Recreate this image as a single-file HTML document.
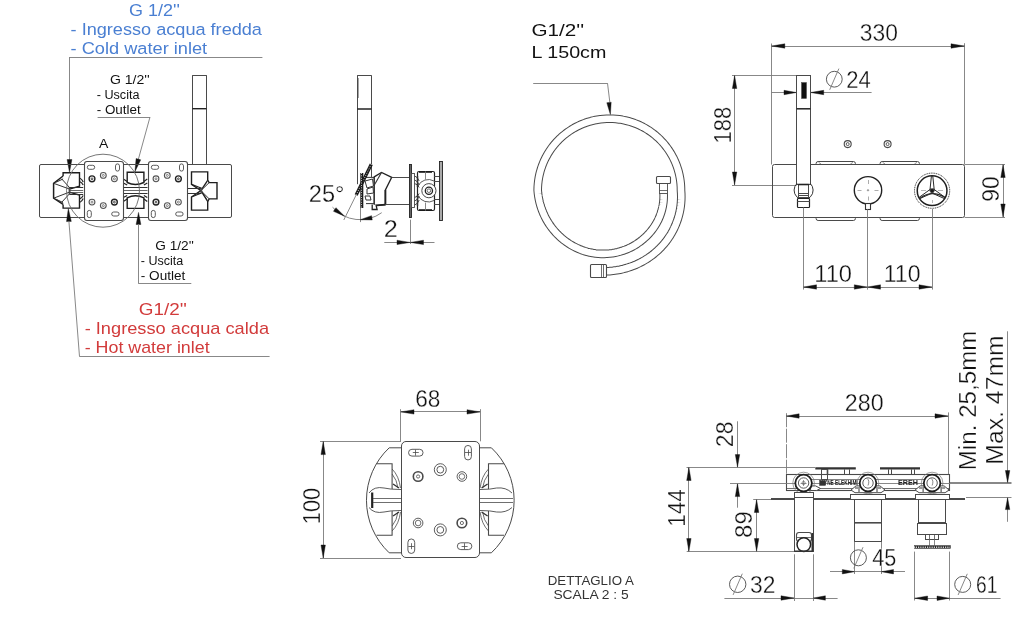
<!DOCTYPE html>
<html><head><meta charset="utf-8"><style>
html,body{margin:0;padding:0;background:#fff;width:1024px;height:617px;overflow:hidden}
svg{display:block;will-change:transform}
text{font-family:"Liberation Sans",sans-serif} .big{stroke:#fff;stroke-width:0.3px}
</style></head><body>
<svg width="1024" height="617" viewBox="0 0 1024 617">
<rect x="0" y="0" width="1024" height="617" fill="#fff"/>
<text x="129.10" y="15.6" font-size="16.8" fill="#4a7fd2" textLength="50.85" lengthAdjust="spacingAndGlyphs">G 1/2''</text>
<text x="70.58" y="34.6" font-size="16.8" fill="#4a7fd2" textLength="191.36" lengthAdjust="spacingAndGlyphs">- Ingresso acqua fredda</text>
<text x="70.58" y="54.0" font-size="16.8" fill="#4a7fd2" textLength="136.57" lengthAdjust="spacingAndGlyphs">- Cold water inlet</text>
<line x1="69" y1="57.5" x2="262.4" y2="57.5" stroke="#7a7a7a" stroke-width="0.9" />
<line x1="69.5" y1="57.5" x2="69.5" y2="161" stroke="#7a7a7a" stroke-width="0.9" />
<path d="M69.50,172.40 L67.10,159.50 L71.90,159.50 Z" fill="#111" stroke="#111" stroke-width="0.4"/>
<text x="109.90" y="84" font-size="12.5" fill="#111" textLength="39.74" lengthAdjust="spacingAndGlyphs">G 1/2''</text>
<text x="96.73" y="99.4" font-size="12.5" fill="#111" textLength="42.76" lengthAdjust="spacingAndGlyphs">- Uscita</text>
<text x="96.70" y="114.3" font-size="12.5" fill="#111" textLength="44.02" lengthAdjust="spacingAndGlyphs">- Outlet</text>
<line x1="97.6" y1="117.5" x2="150" y2="117.5" stroke="#7a7a7a" stroke-width="0.9" />
<line x1="150" y1="117" x2="138.3" y2="159.5" stroke="#7a7a7a" stroke-width="0.9" />
<path d="M134.90,171.80 L136.09,158.56 L140.71,159.84 Z" fill="#111" stroke="#111" stroke-width="0.4"/>
<text x="98.90" y="147.6" font-size="12.5" fill="#111" textLength="9.33" lengthAdjust="spacingAndGlyphs">A</text>
<rect x="39.5" y="164.5" width="192.0" height="53.0" rx="1.5" stroke="#4a4a4a" stroke-width="1.0" fill="none" />
<line x1="192.5" y1="75.2" x2="192.5" y2="164.5" stroke="#4a4a4a" stroke-width="1.0" />
<line x1="206.5" y1="75.2" x2="206.5" y2="164.5" stroke="#4a4a4a" stroke-width="1.0" />
<line x1="192.4" y1="75.5" x2="206.5" y2="75.5" stroke="#4a4a4a" stroke-width="1.0" />
<line x1="192.4" y1="108.7" x2="206.5" y2="108.7" stroke="#222" stroke-width="1.4" />
<path d="M63.1,176 L63.1,172.7 L79.5,172.7 L79.5,186.2 L69.3,189.1" stroke="#1e1e1e" stroke-width="1.4" fill="#fff" />
<path d="M63.1,204.4 L63.1,208.1 L79.5,208.1 L79.5,195 L69.3,192.1" stroke="#1e1e1e" stroke-width="1.4" fill="#fff" />
<path d="M63.1,176 L53.6,183.3 L53.6,198.2 L63.1,204.4" stroke="#1e1e1e" stroke-width="1.5" fill="none" />
<path d="M56.2,182.2 L63.1,178.9 M56.2,199.3 L63.1,202.6" stroke="#333" stroke-width="1.0" fill="none" />
<path d="M53.6,183.3 L69.3,189 M53.6,198.2 L69.3,192.2 M61.7,178.9 L69.3,187.3 M61.7,202.3 L69.3,194" stroke="#333" stroke-width="1.0" fill="none" />
<line x1="69.5" y1="187" x2="69.5" y2="194.2" stroke="#4a4a4a" stroke-width="1.8" />
<line x1="69.3" y1="187.5" x2="83.2" y2="187.5" stroke="#333" stroke-width="1.0" />
<line x1="69.3" y1="190.5" x2="83.2" y2="190.5" stroke="#444" stroke-width="0.8" />
<line x1="69.3" y1="192.5" x2="83.2" y2="192.5" stroke="#444" stroke-width="0.8" />
<line x1="69.3" y1="194.5" x2="83.2" y2="194.5" stroke="#333" stroke-width="1.0" />
<path d="M79.5,178 q2.5,1 3.7,4 M79.5,181.5 q2.5,1 3.7,3.5 M79.5,199 q2.5,-1 3.7,-3.5 M79.5,202.5 q2.5,-1 3.7,-4" stroke="#222" stroke-width="1.2" fill="none" />
<path d="M127.2,182.5 L127.2,172.2 L143.9,172.2 L143.9,182.5 Q135.4,186.5 127.2,182.5 Z" stroke="#1e1e1e" stroke-width="1.4" fill="#fff" />
<path d="M127.2,197.8 L127.2,208.4 L143.9,208.4 L143.9,197.8 Q135.4,193.8 127.2,197.8 Z" stroke="#1e1e1e" stroke-width="1.4" fill="#fff" />
<line x1="123" y1="187.5" x2="147.5" y2="187.5" stroke="#333" stroke-width="1.0" />
<line x1="123" y1="190.5" x2="147.5" y2="190.5" stroke="#444" stroke-width="0.8" />
<line x1="123" y1="193.5" x2="147.5" y2="193.5" stroke="#333" stroke-width="1.0" />
<path d="M123.3,179 l3.9,2.5 M123.3,183 l3.9,2 M123.3,197.5 l3.9,-2 M123.3,201.5 l3.9,-2.5" stroke="#222" stroke-width="1.2" fill="none" />
<path d="M147.3,179 l-3.4,2.5 M147.3,183 l-3.4,2 M147.3,197.5 l-3.4,-2 M147.3,201.5 l-3.4,-2.5" stroke="#222" stroke-width="1.2" fill="none" />
<path d="M191.5,184.3 L191.5,171.9 L207.7,171.9 L207.7,180.4 L200.9,190.6 Z" stroke="#1e1e1e" stroke-width="1.4" fill="#fff" />
<path d="M191.5,197 L191.5,210.1 L207.7,210.1 L207.7,201.3 L200.9,190.6 Z" stroke="#1e1e1e" stroke-width="1.4" fill="#fff" />
<path d="M207.7,180.4 L209.2,182.6 L217,182.6 L217,198.9 L209.2,198.9 L207.7,201.3" stroke="#1e1e1e" stroke-width="1.4" fill="#fff" />
<path d="M200.9,190.6 L209.2,182.6 M200.9,190.6 L209.2,198.9" stroke="#333" stroke-width="1.0" fill="none" />
<line x1="201.3" y1="187.5" x2="201.3" y2="193.7" stroke="#4a4a4a" stroke-width="1.8" />
<line x1="187.3" y1="188.5" x2="200.9" y2="188.5" stroke="#333" stroke-width="1.0" />
<line x1="187.3" y1="193.5" x2="200.9" y2="193.5" stroke="#333" stroke-width="1.0" />
<path d="M191.5,184.3 L200.9,188 M191.5,197 L200.9,193.2" stroke="#222" stroke-width="1.2" fill="none" />
<rect x="84.5" y="161.5" width="39.0" height="59.0" rx="2.5" stroke="#4a4a4a" stroke-width="1.1" fill="#fff" />
<path d="M89.30,165.30 h3.40 a2.0,2.0 0 0 1 0,4.0 h-3.40 a2.0,2.0 0 0 1 0,-4.0 Z" stroke="#4a4a4a" stroke-width="0.9" fill="none" />
<path d="M115.50,165.90 v3.20 a2.0,2.0 0 0 0 4.0,0 v-3.20 a2.0,2.0 0 0 0 -4.0,0 Z" stroke="#4a4a4a" stroke-width="0.9" fill="none" />
<path d="M87.30,212.40 v3.20 a2.0,2.0 0 0 0 4.0,0 v-3.20 a2.0,2.0 0 0 0 -4.0,0 Z" stroke="#4a4a4a" stroke-width="0.9" fill="none" />
<path d="M113.70,212.00 h3.40 a2.0,2.0 0 0 1 0,4.0 h-3.40 a2.0,2.0 0 0 1 0,-4.0 Z" stroke="#4a4a4a" stroke-width="0.9" fill="none" />
<circle cx="92.0" cy="178.8" r="2.9" stroke="#222" stroke-width="1.4" fill="none" />
<circle cx="92.0" cy="178.8" r="0.9" stroke="#333" stroke-width="0.9" fill="none" />
<circle cx="103.3" cy="175.4" r="2.9" stroke="#555" stroke-width="1.1" fill="none" />
<circle cx="103.3" cy="175.4" r="1.0" stroke="#666" stroke-width="0.8" fill="none" />
<circle cx="114.4" cy="178.8" r="2.9" stroke="#555" stroke-width="1.1" fill="none" />
<circle cx="114.4" cy="178.8" r="1.0" stroke="#666" stroke-width="0.8" fill="none" />
<circle cx="92.0" cy="202.1" r="2.9" stroke="#555" stroke-width="1.1" fill="none" />
<circle cx="92.0" cy="202.1" r="1.0" stroke="#666" stroke-width="0.8" fill="none" />
<circle cx="103.3" cy="205.6" r="2.9" stroke="#555" stroke-width="1.1" fill="none" />
<circle cx="103.3" cy="205.6" r="1.0" stroke="#666" stroke-width="0.8" fill="none" />
<circle cx="114.4" cy="202.1" r="2.9" stroke="#222" stroke-width="1.4" fill="none" />
<circle cx="114.4" cy="202.1" r="0.9" stroke="#333" stroke-width="0.9" fill="none" />
<rect x="148.5" y="161.5" width="39.0" height="59.0" rx="2.5" stroke="#4a4a4a" stroke-width="1.1" fill="#fff" />
<path d="M153.30,165.30 h3.40 a2.0,2.0 0 0 1 0,4.0 h-3.40 a2.0,2.0 0 0 1 0,-4.0 Z" stroke="#4a4a4a" stroke-width="0.9" fill="none" />
<path d="M179.50,165.90 v3.20 a2.0,2.0 0 0 0 4.0,0 v-3.20 a2.0,2.0 0 0 0 -4.0,0 Z" stroke="#4a4a4a" stroke-width="0.9" fill="none" />
<path d="M151.30,212.40 v3.20 a2.0,2.0 0 0 0 4.0,0 v-3.20 a2.0,2.0 0 0 0 -4.0,0 Z" stroke="#4a4a4a" stroke-width="0.9" fill="none" />
<path d="M177.70,212.00 h3.40 a2.0,2.0 0 0 1 0,4.0 h-3.40 a2.0,2.0 0 0 1 0,-4.0 Z" stroke="#4a4a4a" stroke-width="0.9" fill="none" />
<circle cx="156.0" cy="178.8" r="2.9" stroke="#555" stroke-width="1.1" fill="none" />
<circle cx="156.0" cy="178.8" r="1.0" stroke="#666" stroke-width="0.8" fill="none" />
<circle cx="167.3" cy="175.4" r="2.9" stroke="#555" stroke-width="1.1" fill="none" />
<circle cx="167.3" cy="175.4" r="1.0" stroke="#666" stroke-width="0.8" fill="none" />
<circle cx="178.4" cy="178.8" r="2.9" stroke="#222" stroke-width="1.4" fill="none" />
<circle cx="178.4" cy="178.8" r="0.9" stroke="#333" stroke-width="0.9" fill="none" />
<circle cx="156.0" cy="202.1" r="2.9" stroke="#222" stroke-width="1.4" fill="none" />
<circle cx="156.0" cy="202.1" r="0.9" stroke="#333" stroke-width="0.9" fill="none" />
<circle cx="167.3" cy="205.6" r="2.9" stroke="#555" stroke-width="1.1" fill="none" />
<circle cx="167.3" cy="205.6" r="1.0" stroke="#666" stroke-width="0.8" fill="none" />
<circle cx="178.4" cy="202.1" r="2.9" stroke="#555" stroke-width="1.1" fill="none" />
<circle cx="178.4" cy="202.1" r="1.0" stroke="#666" stroke-width="0.8" fill="none" />
<circle cx="103" cy="190.7" r="36.5" stroke="#666" stroke-width="0.9" fill="none" />
<path d="M68.30,208.60 L71.30,221.39 L66.50,221.61 Z" fill="#111" stroke="#111" stroke-width="0.4"/>
<line x1="68.9" y1="221" x2="79.5" y2="356.6" stroke="#7a7a7a" stroke-width="0.9" />
<line x1="79.5" y1="356.5" x2="269.6" y2="356.5" stroke="#7a7a7a" stroke-width="0.9" />
<path d="M138.50,212.40 L140.90,224.50 L136.10,224.50 Z" fill="#111" stroke="#111" stroke-width="0.4"/>
<line x1="138.5" y1="224" x2="138.5" y2="283.7" stroke="#7a7a7a" stroke-width="0.9" />
<line x1="138.5" y1="283.5" x2="191.3" y2="283.5" stroke="#7a7a7a" stroke-width="0.9" />
<text x="155.32" y="249.7" font-size="12.5" fill="#111" textLength="38.60" lengthAdjust="spacingAndGlyphs">G 1/2''</text>
<text x="140.84" y="265.2" font-size="12.5" fill="#111" textLength="42.45" lengthAdjust="spacingAndGlyphs">- Uscita</text>
<text x="140.79" y="280.3" font-size="12.5" fill="#111" textLength="44.53" lengthAdjust="spacingAndGlyphs">- Outlet</text>
<text x="138.76" y="314.8" font-size="16.2" fill="#d23b3b" textLength="48.19" lengthAdjust="spacingAndGlyphs">G1/2''</text>
<text x="84.68" y="334.3" font-size="16.2" fill="#d23b3b" textLength="184.36" lengthAdjust="spacingAndGlyphs">- Ingresso acqua calda</text>
<text x="84.70" y="352.5" font-size="16.2" fill="#d23b3b" textLength="124.94" lengthAdjust="spacingAndGlyphs">- Hot water inlet</text>
<line x1="357.5" y1="75.4" x2="357.5" y2="184.2" stroke="#4a4a4a" stroke-width="1.0" />
<line x1="371.5" y1="75.4" x2="371.5" y2="177" stroke="#4a4a4a" stroke-width="1.0" />
<line x1="357.2" y1="75.5" x2="371.6" y2="75.5" stroke="#4a4a4a" stroke-width="1.0" />
<line x1="357.2" y1="109" x2="371.6" y2="109" stroke="#222" stroke-width="1.5" />
<line x1="357.8" y1="78" x2="357.8" y2="98" stroke="#4a4a4a" stroke-width="1.4" />
<path d="M374.2,176.9 L381.5,172.5 L391.7,177.4 L385.4,190 L385.4,204.6 L374.2,205.6 Z" stroke="#222" stroke-width="1.3" fill="#fff" />
<line x1="381.5" y1="172.5" x2="374.2" y2="185.2" stroke="#333" stroke-width="1.1" />
<line x1="385.4" y1="190" x2="385.4" y2="204.6" stroke="#222" stroke-width="1.8" />
<line x1="374.2" y1="205.6" x2="385.4" y2="204.6" stroke="#222" stroke-width="1.6" />
<path d="M372.2,204.6 L372.2,209.5 L377.1,209.5 L376,205" stroke="#222" stroke-width="1.3" fill="#fff" />
<path d="M364.5,177.4 L374.2,177.4 L374.2,203.6 L366,203.6" stroke="#333" stroke-width="1.0" fill="none" />
<path d="M365,181 L372.5,179 L373.5,186 L367,188 Z" stroke="#333" stroke-width="1.0" fill="#fff" />
<path d="M367,189 L373,187 L373.5,193 L367,194 Z" stroke="#333" stroke-width="1.0" fill="#fff" />
<path d="M365,196 L370,196 L371,200 L366,200 Z" stroke="#333" stroke-width="1.0" fill="#fff" />
<line x1="391.7" y1="177.5" x2="409" y2="177.5" stroke="#4a4a4a" stroke-width="1.0" />
<line x1="385.4" y1="204.5" x2="409" y2="204.5" stroke="#4a4a4a" stroke-width="1.0" />
<line x1="371.3" y1="164.2" x2="356.2" y2="194.9" stroke="#1a1a1a" stroke-width="3.3" />
<line x1="371.3" y1="164.2" x2="356.2" y2="194.9" stroke="#ddd" stroke-width="1.0" stroke-dasharray="0.9 1.5"/>
<line x1="361.8" y1="173" x2="361.8" y2="208" stroke="#1a1a1a" stroke-width="3.0" />
<line x1="361.5" y1="173" x2="361.5" y2="208" stroke="#ddd" stroke-width="1.0" stroke-dasharray="0.9 1.5"/>
<rect x="409.5" y="164.5" width="2.0" height="53.0" rx="0" stroke="#222" stroke-width="0.9" fill="#666" />
<rect x="411.5" y="173.5" width="3.0" height="34.0" rx="0" stroke="#4a4a4a" stroke-width="0.9" fill="#fff" />
<rect x="417.5" y="171.5" width="17.0" height="39.0" rx="1.5" stroke="#222" stroke-width="1.2" fill="#fff" />
<line x1="419" y1="172" x2="432" y2="172" stroke="#1a1a1a" stroke-width="1.6" />
<line x1="419" y1="210" x2="432" y2="210" stroke="#1a1a1a" stroke-width="1.6" />
<line x1="425.5" y1="171.4" x2="425.5" y2="179.4" stroke="#7a7a7a" stroke-width="0.9" />
<line x1="425.5" y1="202.6" x2="425.5" y2="210.6" stroke="#7a7a7a" stroke-width="0.9" />
<path d="M434,181 A11.5,11.5 0 0 0 418,186 M418,195.5 A11.5,11.5 0 0 0 434,200.5" stroke="#4a4a4a" stroke-width="0.9" fill="none" />
<circle cx="428.9" cy="190.7" r="7.1" stroke="#4a4a4a" stroke-width="1.0" fill="#fff" />
<circle cx="428.9" cy="190.7" r="3.6" stroke="#222" stroke-width="1.3" fill="none" />
<circle cx="428.9" cy="190.7" r="1.8" stroke="#4a4a4a" stroke-width="0.8" fill="none" />
<path d="M414.7,176 q3,1 4.5,5 M414.7,180 q3,1 4.5,5 M414.7,183.5 q3,1 4.5,4 M414.7,205 q3,-1 4.5,-5 M414.7,201 q3,-1 4.5,-5 M414.7,197.5 q3,-1 4.5,-4" stroke="#333" stroke-width="0.9" fill="none" />
<path d="M417.5,176 l0,11 M417.5,195 l0,11" stroke="#333" stroke-width="1.4" fill="none" />
<line x1="434" y1="176.5" x2="439.7" y2="176.5" stroke="#4a4a4a" stroke-width="1.0" />
<line x1="434" y1="181.5" x2="439.7" y2="181.5" stroke="#4a4a4a" stroke-width="1.0" />
<line x1="434" y1="199.5" x2="439.7" y2="199.5" stroke="#4a4a4a" stroke-width="1.0" />
<line x1="434" y1="204.5" x2="439.7" y2="204.5" stroke="#4a4a4a" stroke-width="1.0" />
<rect x="439.5" y="161.5" width="3.0" height="59.0" rx="0" stroke="#222" stroke-width="0.9" fill="#aaa" />
<line x1="360.5" y1="208" x2="360.5" y2="222.1" stroke="#7a7a7a" stroke-width="0.9" />
<line x1="356.2" y1="194.9" x2="343.8" y2="220" stroke="#7a7a7a" stroke-width="0.9" />
<path d="M332.5,207.2 A36.8,36.8 0 0 0 381.7,212.7" stroke="#7a7a7a" stroke-width="0.9" fill="none" />
<path d="M344.60,216.20 L333.47,211.32 L335.93,207.68 Z" fill="#111" stroke="#111" stroke-width="0.4"/>
<path d="M360.20,219.70 L371.55,215.63 L372.25,219.97 Z" fill="#111" stroke="#111" stroke-width="0.4"/>
<text class="big" x="308.82" y="201.5" font-size="24" fill="#111" textLength="35.65" lengthAdjust="spacingAndGlyphs">25°</text>
<line x1="410.5" y1="219.7" x2="410.5" y2="244" stroke="#7a7a7a" stroke-width="0.9" />
<line x1="384.3" y1="242.5" x2="434.5" y2="242.5" stroke="#7a7a7a" stroke-width="0.9" />
<path d="M410.00,242.40 L397.00,244.60 L397.00,240.20 Z" fill="#111" stroke="#111" stroke-width="0.4"/>
<path d="M410.40,242.40 L423.50,240.20 L423.50,244.60 Z" fill="#111" stroke="#111" stroke-width="0.4"/>
<text class="big" x="383.74" y="236.7" font-size="24" fill="#111" textLength="14.06" lengthAdjust="spacingAndGlyphs">2</text>
<text x="531.57" y="36" font-size="17" fill="#111" textLength="52.66" lengthAdjust="spacingAndGlyphs">G1/2''</text>
<text x="531.63" y="57.7" font-size="17" fill="#111" textLength="74.72" lengthAdjust="spacingAndGlyphs">L 150cm</text>
<line x1="533.2" y1="83.5" x2="607.5" y2="83.5" stroke="#7a7a7a" stroke-width="0.9" />
<line x1="607.5" y1="83.2" x2="609.8" y2="102" stroke="#7a7a7a" stroke-width="0.9" />
<path d="M610.40,114.70 L606.81,102.75 L611.19,102.25 Z" fill="#111" stroke="#111" stroke-width="0.4"/>
<path d="M606.03,271.27 L609.56,271.10 L613.07,270.79 L616.56,270.32 L620.01,269.70 L623.41,268.93 L626.78,268.01 L630.08,266.95 L633.33,265.76 L636.51,264.42 L639.62,262.95 L642.66,261.35 L645.61,259.63 L648.48,257.78 L651.25,255.82 L653.92,253.74 L656.50,251.56 L658.96,249.27 L661.32,246.88 L663.56,244.40 L665.69,241.83 L667.69,239.18 L669.54,236.43 L671.26,233.62 L672.86,230.74 L674.31,227.81 L675.64,224.82 L676.82,221.79 L677.87,218.73 L678.78,215.63 L679.55,212.51 L680.18,209.37 L680.67,206.21 L681.01,203.05 L681.22,199.89 L681.29,196.74 L681.22,193.60 L681.01,190.47 L680.95,187.36 L680.76,184.26 L680.43,181.16 L679.98,178.08 L679.38,175.03 L678.66,172.00 L677.80,169.01 L676.82,166.05 L675.70,163.15 L674.46,160.29 L673.10,157.49 L671.61,154.75 L670.01,152.08 L668.29,149.48 L666.46,146.96 L664.52,144.52 L662.47,142.16 L660.33,139.90 L658.09,137.73 L655.75,135.66 L653.33,133.70 L650.82,131.84 L648.23,130.10 L645.57,128.46 L642.85,126.95 L640.05,125.55 L637.20,124.28 L634.30,123.14 L631.34,122.12 L628.35,121.23 L625.32,120.47 L622.26,119.85 L619.17,119.36 L616.07,119.00 L612.95,118.78 L609.83,118.70 L606.70,118.75 L603.58,118.94 L600.47,119.27 L597.37,119.73 L594.30,120.32 L591.26,121.05 L588.25,121.91 L585.29,122.91 L582.36,124.03 L579.49,125.27 L576.68,126.64 L573.93,128.14 L571.24,129.75 L568.63,131.47 L566.09,133.31 L563.64,135.26 L561.28,137.32 L559.00,139.47 L556.82,141.73 L554.74,144.07 L552.77,146.51 L550.90,149.03 L549.15,151.63 L547.51,154.30 L545.99,157.04 L544.59,159.85 L543.31,162.71 L542.16,165.63 L541.14,168.60 L540.24,171.61 L539.48,174.65 L538.85,177.73 L538.36,180.83 L538.00,183.95 L537.78,187.08 L537.70,190.22 L537.99,193.36 L538.42,196.46 L538.98,199.53 L539.68,202.57 L540.51,205.56 L541.46,208.51 L542.54,211.40 L543.74,214.23 L545.06,216.99 L546.49,219.69 L548.04,222.31 L549.70,224.85 L551.45,227.31 L553.31,229.69 L555.27,231.97 L557.31,234.15 L559.44,236.24 L561.66,238.22 L563.95,240.10 L566.31,241.87 L568.74,243.53 L571.24,245.08 L573.79,246.51 L576.39,247.82 L579.03,249.01 L581.72,250.08 L584.44,251.03 L587.19,251.86 L589.97,252.55 L592.78,253.07 L595.59,253.46 L598.41,253.73 L601.23,253.87 L604.03,253.88 L606.82,253.78 L609.59,253.55 L612.33,253.20 L615.05,252.73 L617.73,252.15 L620.36,251.45 L622.96,250.64 L625.50,249.72 L627.99,248.70 L630.41,247.57 L632.78,246.34 L635.07,245.02 L637.30,243.60 L639.45,242.09 L641.52,240.49 L643.52,238.83 L645.45,237.11 L647.30,235.32 L649.06,233.46 L650.73,231.53 L652.31,229.53 L653.79,227.48 L655.17,225.37 L656.46,223.21 L657.64,221.01 L658.72,218.77 L659.69,216.49 L660.56,214.18 L661.33,211.84 L661.99,209.48 L662.54,207.11 L662.98,204.73 L663.32,202.34 L663.55,199.94 L663.67,197.55 L663.69,195.17 L663.60,192.80" stroke="#4a4a4a" stroke-width="8.6" fill="none" stroke-linejoin="round"/>
<path d="M606.03,271.27 L609.56,271.10 L613.07,270.79 L616.56,270.32 L620.01,269.70 L623.41,268.93 L626.78,268.01 L630.08,266.95 L633.33,265.76 L636.51,264.42 L639.62,262.95 L642.66,261.35 L645.61,259.63 L648.48,257.78 L651.25,255.82 L653.92,253.74 L656.50,251.56 L658.96,249.27 L661.32,246.88 L663.56,244.40 L665.69,241.83 L667.69,239.18 L669.54,236.43 L671.26,233.62 L672.86,230.74 L674.31,227.81 L675.64,224.82 L676.82,221.79 L677.87,218.73 L678.78,215.63 L679.55,212.51 L680.18,209.37 L680.67,206.21 L681.01,203.05 L681.22,199.89 L681.29,196.74 L681.22,193.60 L681.01,190.47 L680.95,187.36 L680.76,184.26 L680.43,181.16 L679.98,178.08 L679.38,175.03 L678.66,172.00 L677.80,169.01 L676.82,166.05 L675.70,163.15 L674.46,160.29 L673.10,157.49 L671.61,154.75 L670.01,152.08 L668.29,149.48 L666.46,146.96 L664.52,144.52 L662.47,142.16 L660.33,139.90 L658.09,137.73 L655.75,135.66 L653.33,133.70 L650.82,131.84 L648.23,130.10 L645.57,128.46 L642.85,126.95 L640.05,125.55 L637.20,124.28 L634.30,123.14 L631.34,122.12 L628.35,121.23 L625.32,120.47 L622.26,119.85 L619.17,119.36 L616.07,119.00 L612.95,118.78 L609.83,118.70 L606.70,118.75 L603.58,118.94 L600.47,119.27 L597.37,119.73 L594.30,120.32 L591.26,121.05 L588.25,121.91 L585.29,122.91 L582.36,124.03 L579.49,125.27 L576.68,126.64 L573.93,128.14 L571.24,129.75 L568.63,131.47 L566.09,133.31 L563.64,135.26 L561.28,137.32 L559.00,139.47 L556.82,141.73 L554.74,144.07 L552.77,146.51 L550.90,149.03 L549.15,151.63 L547.51,154.30 L545.99,157.04 L544.59,159.85 L543.31,162.71 L542.16,165.63 L541.14,168.60 L540.24,171.61 L539.48,174.65 L538.85,177.73 L538.36,180.83 L538.00,183.95 L537.78,187.08 L537.70,190.22 L537.99,193.36 L538.42,196.46 L538.98,199.53 L539.68,202.57 L540.51,205.56 L541.46,208.51 L542.54,211.40 L543.74,214.23 L545.06,216.99 L546.49,219.69 L548.04,222.31 L549.70,224.85 L551.45,227.31 L553.31,229.69 L555.27,231.97 L557.31,234.15 L559.44,236.24 L561.66,238.22 L563.95,240.10 L566.31,241.87 L568.74,243.53 L571.24,245.08 L573.79,246.51 L576.39,247.82 L579.03,249.01 L581.72,250.08 L584.44,251.03 L587.19,251.86 L589.97,252.55 L592.78,253.07 L595.59,253.46 L598.41,253.73 L601.23,253.87 L604.03,253.88 L606.82,253.78 L609.59,253.55 L612.33,253.20 L615.05,252.73 L617.73,252.15 L620.36,251.45 L622.96,250.64 L625.50,249.72 L627.99,248.70 L630.41,247.57 L632.78,246.34 L635.07,245.02 L637.30,243.60 L639.45,242.09 L641.52,240.49 L643.52,238.83 L645.45,237.11 L647.30,235.32 L649.06,233.46 L650.73,231.53 L652.31,229.53 L653.79,227.48 L655.17,225.37 L656.46,223.21 L657.64,221.01 L658.72,218.77 L659.69,216.49 L660.56,214.18 L661.33,211.84 L661.99,209.48 L662.54,207.11 L662.98,204.73 L663.32,202.34 L663.55,199.94 L663.67,197.55 L663.69,195.17 L663.60,192.80" stroke="#fff" stroke-width="6.6" fill="none" stroke-linejoin="round"/>
<rect x="659.5" y="183.5" width="8.0" height="10.0" rx="0" stroke="#4a4a4a" stroke-width="0.9" fill="#fff" />
<line x1="659.5" y1="190.5" x2="667.6" y2="190.5" stroke="#4a4a4a" stroke-width="0.8" />
<rect x="656.5" y="176.5" width="14.0" height="7.0" rx="1" stroke="#4a4a4a" stroke-width="1.1" fill="#fff" />
<rect x="590.5" y="264.5" width="16.0" height="13.0" rx="1" stroke="#4a4a4a" stroke-width="1.1" fill="#fff" />
<line x1="601.5" y1="265" x2="601.5" y2="277.5" stroke="#4a4a4a" stroke-width="0.8" />
<line x1="603.5" y1="265" x2="603.5" y2="277.5" stroke="#4a4a4a" stroke-width="0.8" />
<line x1="771.5" y1="43.5" x2="771.5" y2="164.5" stroke="#7a7a7a" stroke-width="0.9" />
<line x1="964.5" y1="43.2" x2="964.5" y2="164.5" stroke="#7a7a7a" stroke-width="0.9" />
<line x1="771.4" y1="46.5" x2="964.6" y2="46.5" stroke="#7a7a7a" stroke-width="0.9" />
<path d="M771.60,46.00 L784.80,43.80 L784.80,48.20 Z" fill="#111" stroke="#111" stroke-width="0.4"/>
<path d="M964.40,46.00 L951.00,48.20 L951.00,43.80 Z" fill="#111" stroke="#111" stroke-width="0.4"/>
<text class="big" x="859.79" y="41.1" font-size="24" fill="#111" textLength="38.09" lengthAdjust="spacingAndGlyphs">330</text>
<line x1="732" y1="75.5" x2="796.6" y2="75.5" stroke="#7a7a7a" stroke-width="0.9" />
<line x1="732" y1="185.5" x2="796.6" y2="185.5" stroke="#7a7a7a" stroke-width="0.9" />
<line x1="734.5" y1="75.4" x2="734.5" y2="185" stroke="#7a7a7a" stroke-width="0.9" />
<path d="M734.60,75.60 L736.80,88.50 L732.40,88.50 Z" fill="#111" stroke="#111" stroke-width="0.4"/>
<path d="M734.60,184.80 L732.40,172.00 L736.80,172.00 Z" fill="#111" stroke="#111" stroke-width="0.4"/>
<text class="big" transform="translate(730.7,143.45) rotate(-90)" font-size="24" fill="#111" textLength="36.60" lengthAdjust="spacingAndGlyphs">188</text>
<line x1="771.4" y1="92.5" x2="871.6" y2="92.5" stroke="#7a7a7a" stroke-width="0.9" />
<path d="M796.40,92.50 L784.00,94.70 L784.00,90.30 Z" fill="#111" stroke="#111" stroke-width="0.4"/>
<path d="M810.50,92.50 L823.70,90.30 L823.70,94.70 Z" fill="#111" stroke="#111" stroke-width="0.4"/>
<circle cx="834.3" cy="79.2" r="7.9" stroke="#4a4a4a" stroke-width="0.9" fill="none" />
<line x1="829.7" y1="89.8" x2="838.9" y2="68.6" stroke="#7a7a7a" stroke-width="0.9" />
<text class="big" x="846.20" y="87.8" font-size="24" fill="#111" textLength="24.51" lengthAdjust="spacingAndGlyphs">24</text>
<rect x="772.5" y="164.5" width="192.0" height="53.0" rx="2" stroke="#4a4a4a" stroke-width="1.0" fill="none" />
<path d="M816.1,164.5 L816.1,163.5 Q816.1,161.5 818.1,161.5 L853.4,161.5 Q855.4,161.5 855.4,163.5 L855.4,164.5" stroke="#4a4a4a" stroke-width="1.0" fill="none" />
<path d="M816.1,217.5 L816.1,218.5 Q816.1,220.5 818.1,220.5 L853.4,220.5 Q855.4,220.5 855.4,218.5 L855.4,217.5" stroke="#4a4a4a" stroke-width="1.0" fill="none" />
<line x1="818.6" y1="162.4" x2="821.1" y2="164" stroke="#4a4a4a" stroke-width="0.6" />
<line x1="852.9" y1="162.4" x2="850.4" y2="164" stroke="#4a4a4a" stroke-width="0.6" />
<path d="M880.1,164.5 L880.1,163.5 Q880.1,161.5 882.1,161.5 L917.4,161.5 Q919.4,161.5 919.4,163.5 L919.4,164.5" stroke="#4a4a4a" stroke-width="1.0" fill="none" />
<path d="M880.1,217.5 L880.1,218.5 Q880.1,220.5 882.1,220.5 L917.4,220.5 Q919.4,220.5 919.4,218.5 L919.4,217.5" stroke="#4a4a4a" stroke-width="1.0" fill="none" />
<line x1="882.6" y1="162.4" x2="885.1" y2="164" stroke="#4a4a4a" stroke-width="0.6" />
<line x1="916.9" y1="162.4" x2="914.4" y2="164" stroke="#4a4a4a" stroke-width="0.6" />
<circle cx="847.7" cy="144.1" r="3.5" stroke="#4a4a4a" stroke-width="1.1" fill="none" />
<circle cx="847.7" cy="144.1" r="1.5" stroke="#4a4a4a" stroke-width="0.9" fill="none" />
<circle cx="887.6" cy="144.1" r="3.5" stroke="#4a4a4a" stroke-width="1.1" fill="none" />
<circle cx="887.6" cy="144.1" r="1.5" stroke="#4a4a4a" stroke-width="0.9" fill="none" />
<rect x="796.5" y="75.5" width="14.0" height="109.0" rx="0" stroke="#4a4a4a" stroke-width="1.0" fill="#fff" />
<line x1="796.6" y1="108.8" x2="810.5" y2="108.8" stroke="#222" stroke-width="1.5" />
<rect x="801.5" y="82.5" width="5.0" height="16.0" rx="0" stroke="#4a4a4a" stroke-width="0.5" fill="#111" />
<path d="M797.1,183.3 A9.5,9.5 0 1 0 810.1,183.3" stroke="#333" stroke-width="1.0" fill="none" />
<rect x="798.5" y="184.5" width="10.0" height="13.0" rx="0" stroke="#4a4a4a" stroke-width="1.0" fill="none" />
<line x1="798.2" y1="184.5" x2="808.9" y2="184.5" stroke="#222" stroke-width="1.6" />
<line x1="798.2" y1="193.5" x2="808.9" y2="193.5" stroke="#4a4a4a" stroke-width="1.0" />
<line x1="798.2" y1="195.5" x2="808.9" y2="195.5" stroke="#4a4a4a" stroke-width="1.0" />
<rect x="797.5" y="198.5" width="12.0" height="9.0" rx="0.8" stroke="#222" stroke-width="1.2" fill="#fff" />
<line x1="797.2" y1="201.5" x2="809.9" y2="201.5" stroke="#4a4a4a" stroke-width="1.0" />
<line x1="803.5" y1="207.4" x2="803.5" y2="289.6" stroke="#7a7a7a" stroke-width="0.9" />
<circle cx="868" cy="190.3" r="13.7" stroke="#222" stroke-width="1.4" fill="#fff" />
<line x1="868.5" y1="180" x2="868.5" y2="184" stroke="#888" stroke-width="0.7" />
<line x1="868.5" y1="196.5" x2="868.5" y2="200.5" stroke="#888" stroke-width="0.7" />
<line x1="857.5" y1="190.5" x2="861.5" y2="190.5" stroke="#888" stroke-width="0.7" />
<line x1="874.5" y1="190.5" x2="878.5" y2="190.5" stroke="#888" stroke-width="0.7" />
<circle cx="868" cy="190.3" r="0.8" stroke="#888" stroke-width="0.5" fill="#888" />
<rect x="865.5" y="203.5" width="5.0" height="6.0" rx="0" stroke="#333" stroke-width="1.1" fill="#fff" />
<line x1="867.5" y1="209.2" x2="867.5" y2="289.6" stroke="#7a7a7a" stroke-width="0.9" />
<circle cx="932.1" cy="190.7" r="17.6" stroke="#333" stroke-width="1.0" fill="none" stroke-dasharray="1.1 0.7"/>
<circle cx="932.1" cy="190.7" r="14.85" stroke="#1e1e1e" stroke-width="1.5" fill="none" />
<path d="M934.30,190.70 L932.80,176.20 L931.40,176.20 L929.90,190.70" stroke="#2a2a2a" stroke-width="1.0" fill="none" />
<path d="M931.00,188.79 L919.19,197.34 L919.89,198.56 L933.20,192.61" stroke="#2a2a2a" stroke-width="1.0" fill="none" />
<path d="M931.00,192.61 L944.31,198.56 L945.01,197.34 L933.20,188.79" stroke="#2a2a2a" stroke-width="1.0" fill="none" />
<path d="M920,198.2 Q932.1,189.5 945.3,197.7" stroke="#2a2a2a" stroke-width="1.2" fill="none" />
<circle cx="932.1" cy="190.7" r="2.1" stroke="#4a4a4a" stroke-width="0.6" fill="#1a1a1a" />
<line x1="921" y1="190.5" x2="926" y2="190.5" stroke="#888" stroke-width="0.6" />
<line x1="938" y1="190.5" x2="943" y2="190.5" stroke="#888" stroke-width="0.6" />
<line x1="932.5" y1="200" x2="932.5" y2="203" stroke="#888" stroke-width="0.6" />
<line x1="932.5" y1="209" x2="932.5" y2="289.6" stroke="#7a7a7a" stroke-width="0.9" />
<line x1="964.6" y1="164.5" x2="1005" y2="164.5" stroke="#7a7a7a" stroke-width="0.9" />
<line x1="964.6" y1="217.5" x2="1005" y2="217.5" stroke="#7a7a7a" stroke-width="0.9" />
<line x1="1003.5" y1="164.5" x2="1003.5" y2="217.1" stroke="#7a7a7a" stroke-width="0.9" />
<path d="M1003.00,164.70 L1005.20,177.50 L1000.80,177.50 Z" fill="#111" stroke="#111" stroke-width="0.4"/>
<path d="M1003.00,216.90 L1000.80,204.00 L1005.20,204.00 Z" fill="#111" stroke="#111" stroke-width="0.4"/>
<text class="big" transform="translate(998.7,201.63) rotate(-90)" font-size="24" fill="#111" textLength="25.49" lengthAdjust="spacingAndGlyphs">90</text>
<line x1="803.4" y1="287.5" x2="932.2" y2="287.5" stroke="#7a7a7a" stroke-width="0.9" />
<path d="M803.60,287.00 L816.50,284.80 L816.50,289.20 Z" fill="#111" stroke="#111" stroke-width="0.4"/>
<path d="M867.20,287.00 L854.30,289.20 L854.30,284.80 Z" fill="#111" stroke="#111" stroke-width="0.4"/>
<path d="M867.60,287.00 L880.50,284.80 L880.50,289.20 Z" fill="#111" stroke="#111" stroke-width="0.4"/>
<path d="M932.00,287.00 L919.00,289.20 L919.00,284.80 Z" fill="#111" stroke="#111" stroke-width="0.4"/>
<text class="big" x="814.22" y="281.7" font-size="24" fill="#111" textLength="37.79" lengthAdjust="spacingAndGlyphs">110</text>
<text class="big" x="883.77" y="281.7" font-size="24" fill="#111" textLength="36.72" lengthAdjust="spacingAndGlyphs">110</text>
<line x1="400.5" y1="409.2" x2="400.5" y2="441.3" stroke="#7a7a7a" stroke-width="0.9" />
<line x1="480.5" y1="409.2" x2="480.5" y2="441.3" stroke="#7a7a7a" stroke-width="0.9" />
<line x1="400.6" y1="411.5" x2="480.3" y2="411.5" stroke="#7a7a7a" stroke-width="0.9" />
<path d="M400.80,411.90 L414.00,409.70 L414.00,414.10 Z" fill="#111" stroke="#111" stroke-width="0.4"/>
<path d="M480.10,411.90 L467.00,414.10 L467.00,409.70 Z" fill="#111" stroke="#111" stroke-width="0.4"/>
<text class="big" x="415.27" y="406.7" font-size="24" fill="#111" textLength="25.19" lengthAdjust="spacingAndGlyphs">68</text>
<line x1="320" y1="441.5" x2="401" y2="441.5" stroke="#7a7a7a" stroke-width="0.9" />
<line x1="320" y1="558.5" x2="401" y2="558.5" stroke="#7a7a7a" stroke-width="0.9" />
<line x1="323.5" y1="441.3" x2="323.5" y2="558.2" stroke="#7a7a7a" stroke-width="0.9" />
<path d="M323.20,441.50 L325.40,454.60 L321.00,454.60 Z" fill="#111" stroke="#111" stroke-width="0.4"/>
<path d="M323.20,558.00 L321.00,545.00 L325.40,545.00 Z" fill="#111" stroke="#111" stroke-width="0.4"/>
<text class="big" transform="translate(319.6,524.24) rotate(-90)" font-size="24" fill="#111" textLength="36.48" lengthAdjust="spacingAndGlyphs">100</text>
<path d="M401,447.8 L389.2,447.8 A72,72 0 0 0 389.2,552.8 L401,552.8" stroke="#4a4a4a" stroke-width="1.0" fill="none" />
<path d="M479.8,447.8 L491.4,447.8 A72,72 0 0 1 491.4,552.8 L479.8,552.8" stroke="#4a4a4a" stroke-width="1.0" fill="none" />
<path d="M376.5,463.7 L392.1,463.7 L392.1,489" stroke="#4a4a4a" stroke-width="1.1" fill="none" />
<path d="M376.5,535.3 L392.1,535.3 L392.1,511" stroke="#4a4a4a" stroke-width="1.1" fill="none" />
<path d="M369,493 Q374,486 384,488 Q390,489.5 401,489.5 M369,507.5 Q374,514 384,512 Q390,510.5 401,510.5" stroke="#4a4a4a" stroke-width="0.9" fill="none" />
<line x1="372.2" y1="492.5" x2="372.2" y2="508" stroke="#222" stroke-width="2.2" />
<line x1="373" y1="498.5" x2="401" y2="498.5" stroke="#4a4a4a" stroke-width="0.8" />
<line x1="373" y1="502.5" x2="401" y2="502.5" stroke="#4a4a4a" stroke-width="0.8" />
<path d="M392.1,469 Q399,476 400.5,488 M392.1,474 Q397,480 398,488 M392.1,531 Q399,524 400.5,512 M392.1,526 Q397,520 398,512" stroke="#4a4a4a" stroke-width="0.8" fill="none" />
<path d="M393,484 l6,4 M393,516 l6,-4" stroke="#333" stroke-width="1.4" fill="none" />
<path d="M504.1,463.7 L488.5,463.7 L488.5,489" stroke="#4a4a4a" stroke-width="1.1" fill="none" />
<path d="M504.1,535.3 L488.5,535.3 L488.5,511" stroke="#4a4a4a" stroke-width="1.1" fill="none" />
<path d="M512,493 Q506,487 496.6,488 Q490.6,489.5 479.8,489.5 M512,507.5 Q506,513 496.6,512 Q490.6,510.5 479.8,510.5" stroke="#4a4a4a" stroke-width="0.9" fill="none" />
<line x1="479.8" y1="498.5" x2="513" y2="498.5" stroke="#4a4a4a" stroke-width="0.8" />
<line x1="479.8" y1="502.5" x2="513" y2="502.5" stroke="#4a4a4a" stroke-width="0.8" />
<path d="M488.5,469 Q481.6,476 480.1,488 M488.5,474 Q483.6,480 482.6,488 M488.5,531 Q481.6,524 480.1,512 M488.5,526 Q483.6,520 482.6,512" stroke="#4a4a4a" stroke-width="0.8" fill="none" />
<path d="M487.6,484 l-6,4 M487.6,516 l-6,-4" stroke="#333" stroke-width="1.4" fill="none" />
<rect x="401.5" y="441.5" width="78.0" height="116.0" rx="4.5" stroke="#4a4a4a" stroke-width="1.0" fill="#fff" />
<path d="M411.95,449.30 h7.70 a3.4,3.4 0 0 1 0,6.8 h-7.70 a3.4,3.4 0 0 1 0,-6.8 Z" stroke="#4a4a4a" stroke-width="0.9" fill="none" />
<line x1="412.8" y1="452.5" x2="418.8" y2="452.5" stroke="#4a4a4a" stroke-width="0.8" />
<line x1="415.5" y1="449.7" x2="415.5" y2="455.7" stroke="#4a4a4a" stroke-width="0.8" />
<path d="M464.60,448.85 v7.70 a3.4,3.4 0 0 0 6.8,0 v-7.70 a3.4,3.4 0 0 0 -6.8,0 Z" stroke="#4a4a4a" stroke-width="0.9" fill="none" />
<line x1="465" y1="452.5" x2="471" y2="452.5" stroke="#4a4a4a" stroke-width="0.8" />
<line x1="468.5" y1="449.7" x2="468.5" y2="455.7" stroke="#4a4a4a" stroke-width="0.8" />
<path d="M407.90,542.35 v7.70 a3.4,3.4 0 0 0 6.8,0 v-7.70 a3.4,3.4 0 0 0 -6.8,0 Z" stroke="#4a4a4a" stroke-width="0.9" fill="none" />
<line x1="408.3" y1="546.5" x2="414.3" y2="546.5" stroke="#4a4a4a" stroke-width="0.8" />
<line x1="411.5" y1="543.2" x2="411.5" y2="549.2" stroke="#4a4a4a" stroke-width="0.8" />
<path d="M460.75,542.80 h7.70 a3.4,3.4 0 0 1 0,6.8 h-7.70 a3.4,3.4 0 0 1 0,-6.8 Z" stroke="#4a4a4a" stroke-width="0.9" fill="none" />
<line x1="461.6" y1="546.5" x2="467.6" y2="546.5" stroke="#4a4a4a" stroke-width="0.8" />
<line x1="464.5" y1="543.2" x2="464.5" y2="549.2" stroke="#4a4a4a" stroke-width="0.8" />
<circle cx="440.3" cy="469.7" r="6.0" stroke="#4a4a4a" stroke-width="0.9" fill="none" />
<circle cx="440.3" cy="469.7" r="3.4" stroke="#4a4a4a" stroke-width="0.9" fill="none" />
<circle cx="440.3" cy="529.9" r="6.0" stroke="#4a4a4a" stroke-width="0.9" fill="none" />
<circle cx="440.3" cy="529.9" r="3.4" stroke="#4a4a4a" stroke-width="0.9" fill="none" />
<circle cx="418.1" cy="476.5" r="4.8" stroke="#4a4a4a" stroke-width="1.6" fill="none" />
<circle cx="418.1" cy="476.5" r="1.6" stroke="#4a4a4a" stroke-width="0.8" fill="none" />
<circle cx="461.9" cy="476.5" r="4.8" stroke="#4a4a4a" stroke-width="0.9" fill="none" />
<circle cx="461.9" cy="476.5" r="2.8" stroke="#4a4a4a" stroke-width="0.8" fill="none" />
<circle cx="418.1" cy="523" r="4.8" stroke="#4a4a4a" stroke-width="0.9" fill="none" />
<circle cx="418.1" cy="523" r="2.8" stroke="#4a4a4a" stroke-width="0.8" fill="none" />
<circle cx="461.9" cy="523" r="4.8" stroke="#4a4a4a" stroke-width="1.6" fill="none" />
<circle cx="461.9" cy="523" r="1.6" stroke="#4a4a4a" stroke-width="0.8" fill="none" />
<text x="547.69" y="585.2" font-size="13.7" fill="#333" textLength="86.10" lengthAdjust="spacingAndGlyphs">DETTAGLIO A</text>
<text x="553.38" y="598.7" font-size="13.7" fill="#333" textLength="75.21" lengthAdjust="spacingAndGlyphs">SCALA 2 : 5</text>
<line x1="786.5" y1="413.2" x2="786.5" y2="474" stroke="#7a7a7a" stroke-width="0.9" stroke-dasharray="14 1.5"/>
<line x1="948.5" y1="412.4" x2="948.5" y2="474" stroke="#7a7a7a" stroke-width="0.9" />
<line x1="786.2" y1="416.5" x2="948.3" y2="416.5" stroke="#7a7a7a" stroke-width="0.9" />
<path d="M786.40,416.00 L799.10,413.80 L799.10,418.20 Z" fill="#111" stroke="#111" stroke-width="0.4"/>
<path d="M948.10,416.00 L935.00,418.20 L935.00,413.80 Z" fill="#111" stroke="#111" stroke-width="0.4"/>
<text class="big" x="844.84" y="411.4" font-size="24" fill="#111" textLength="38.76" lengthAdjust="spacingAndGlyphs">280</text>
<line x1="686.5" y1="467.5" x2="815" y2="467.5" stroke="#7a7a7a" stroke-width="0.9" />
<line x1="950" y1="482.5" x2="1011.5" y2="482.5" stroke="#7a7a7a" stroke-width="0.9" />
<line x1="966" y1="497.5" x2="1011.5" y2="497.5" stroke="#7a7a7a" stroke-width="0.9" />
<line x1="686.7" y1="551.5" x2="813.2" y2="551.5" stroke="#7a7a7a" stroke-width="0.9" />
<line x1="753.2" y1="499.5" x2="771" y2="499.5" stroke="#7a7a7a" stroke-width="0.9" />
<line x1="737.5" y1="421.3" x2="737.5" y2="467.3" stroke="#7a7a7a" stroke-width="0.9" />
<path d="M737.50,467.10 L735.30,454.60 L739.70,454.60 Z" fill="#111" stroke="#111" stroke-width="0.4"/>
<line x1="737.5" y1="483.3" x2="737.5" y2="507.7" stroke="#7a7a7a" stroke-width="0.9" />
<path d="M737.50,483.50 L739.70,496.60 L735.30,496.60 Z" fill="#111" stroke="#111" stroke-width="0.4"/>
<text class="big" transform="translate(733.2,447.15) rotate(-90)" font-size="24" fill="#111" textLength="25.63" lengthAdjust="spacingAndGlyphs">28</text>
<line x1="688.5" y1="467.3" x2="688.5" y2="551.5" stroke="#7a7a7a" stroke-width="0.9" />
<path d="M688.90,467.50 L691.10,480.50 L686.70,480.50 Z" fill="#111" stroke="#111" stroke-width="0.4"/>
<path d="M688.90,551.30 L686.70,538.50 L691.10,538.50 Z" fill="#111" stroke="#111" stroke-width="0.4"/>
<text class="big" transform="translate(685,526.68) rotate(-90)" font-size="24" fill="#111" textLength="37.43" lengthAdjust="spacingAndGlyphs">144</text>
<line x1="756.5" y1="499.5" x2="756.5" y2="551.5" stroke="#7a7a7a" stroke-width="0.9" />
<path d="M756.60,499.70 L758.80,512.50 L754.40,512.50 Z" fill="#111" stroke="#111" stroke-width="0.4"/>
<path d="M756.60,551.30 L754.40,538.50 L758.80,538.50 Z" fill="#111" stroke="#111" stroke-width="0.4"/>
<text class="big" transform="translate(751.5,537.88) rotate(-90)" font-size="24" fill="#111" textLength="26.72" lengthAdjust="spacingAndGlyphs">89</text>
<line x1="771" y1="499" x2="965" y2="499" stroke="#4a4a4a" stroke-width="2.0" />
<line x1="815.3" y1="468.3" x2="855.8" y2="468.3" stroke="#333" stroke-width="2.2" />
<line x1="880" y1="468.3" x2="920" y2="468.3" stroke="#333" stroke-width="2.2" />
<rect x="821.5" y="469.5" width="6.0" height="10.0" rx="0" stroke="#4a4a4a" stroke-width="1.0" fill="#fff" />
<line x1="827.5" y1="469.3" x2="827.5" y2="479" stroke="#222" stroke-width="1.5" />
<line x1="844.5" y1="469.3" x2="844.5" y2="474.5" stroke="#4a4a4a" stroke-width="1.0" />
<line x1="849.5" y1="469.3" x2="849.5" y2="474.5" stroke="#4a4a4a" stroke-width="1.0" />
<line x1="888.5" y1="469.3" x2="888.5" y2="474.5" stroke="#4a4a4a" stroke-width="1.0" />
<line x1="891.5" y1="469.3" x2="891.5" y2="474.5" stroke="#4a4a4a" stroke-width="1.0" />
<line x1="911.5" y1="469.3" x2="911.5" y2="474.5" stroke="#4a4a4a" stroke-width="1.0" />
<line x1="914.5" y1="469.3" x2="914.5" y2="474.5" stroke="#4a4a4a" stroke-width="1.0" />
<rect x="786.5" y="474.5" width="163.0" height="16.0" rx="0" stroke="#4a4a4a" stroke-width="1.1" fill="#fff" />
<line x1="786.1" y1="488.5" x2="949.2" y2="488.5" stroke="#4a4a4a" stroke-width="0.8" />
<line x1="810" y1="479.5" x2="930" y2="479.5" stroke="#4a4a4a" stroke-width="0.7" />
<line x1="730" y1="483.5" x2="1011.5" y2="483.5" stroke="#7a7a7a" stroke-width="0.9" />
<text x="819.7" y="485" font-size="6.5" font-weight="bold" fill="#222" textLength="38" lengthAdjust="spacingAndGlyphs" style="font-family:Liberation Sans">IAYNE ELEKHIMI</text>
<rect x="819.5" y="480.5" width="6.0" height="5.0" rx="0" stroke="#4a4a4a" stroke-width="0.5" fill="#333" />
<text x="898" y="485" font-size="6.5" font-weight="bold" fill="#222" textLength="20" lengthAdjust="spacingAndGlyphs" style="font-family:Liberation Sans">EREH</text>
<rect x="821.5" y="469.5" width="6.0" height="10.0" rx="0" stroke="#4a4a4a" stroke-width="1.0" fill="none" />
<circle cx="803.6" cy="483" r="10.8" stroke="#777" stroke-width="0.7" fill="none" />
<path d="M810.6,486 L815.6,485.9 L820.6,488.5 L816.6,490.5 L810.6,490.5 Z" stroke="#4a4a4a" stroke-width="1.0" fill="#fff" />
<circle cx="803.6" cy="483" r="8.3" stroke="#1e1e1e" stroke-width="1.8" fill="#fff" />
<circle cx="803.6" cy="483" r="5.2" stroke="#4a4a4a" stroke-width="0.9" fill="none" />
<line x1="800.6" y1="483.5" x2="806.6" y2="483.5" stroke="#555" stroke-width="0.6" />
<line x1="803.5" y1="480" x2="803.5" y2="486" stroke="#555" stroke-width="0.6" />
<circle cx="803.6" cy="483" r="1.6" stroke="#555" stroke-width="0.6" fill="none" />
<circle cx="868" cy="483" r="10.8" stroke="#777" stroke-width="0.7" fill="none" />
<path d="M851,490 L856,485.9 L880,485.9 L885,490 L881,492.7 L855,492.7 Z" stroke="#4a4a4a" stroke-width="1.0" fill="#fff" />
<path d="M855,488 l3,0 M859,487 l0,5 M881,488 l-3,0 M877,487 l0,5" stroke="#333" stroke-width="1.0" fill="none" />
<circle cx="868" cy="483" r="8.3" stroke="#1e1e1e" stroke-width="1.8" fill="#fff" />
<circle cx="868" cy="483" r="5.2" stroke="#4a4a4a" stroke-width="0.9" fill="none" />
<path d="M867,478.5 q3,2 1,7" stroke="#555" stroke-width="0.7" fill="none" />
<circle cx="932.1" cy="483" r="10.8" stroke="#777" stroke-width="0.7" fill="none" />
<path d="M915.1,490 L920.1,485.9 L944.1,485.9 L949.1,490 L945.1,492.7 L919.1,492.7 Z" stroke="#4a4a4a" stroke-width="1.0" fill="#fff" />
<path d="M919.1,488 l3,0 M923.1,487 l0,5 M945.1,488 l-3,0 M941.1,487 l0,5" stroke="#333" stroke-width="1.0" fill="none" />
<circle cx="932.1" cy="483" r="8.3" stroke="#1e1e1e" stroke-width="1.8" fill="#fff" />
<circle cx="932.1" cy="483" r="5.2" stroke="#4a4a4a" stroke-width="0.9" fill="none" />
<path d="M931.1,478.5 q3,2 1,7" stroke="#555" stroke-width="0.7" fill="none" />
<rect x="794.5" y="492.5" width="19.0" height="59.0" rx="0" stroke="#4a4a4a" stroke-width="1.0" fill="#fff" />
<line x1="794.3" y1="497.5" x2="813.2" y2="497.5" stroke="#4a4a4a" stroke-width="1.0" />
<rect x="796.5" y="532.5" width="15.0" height="9.0" rx="2.5" stroke="#4a4a4a" stroke-width="1.1" fill="#fff" />
<line x1="796.1" y1="537.5" x2="811.5" y2="537.5" stroke="#4a4a4a" stroke-width="0.8" />
<circle cx="803.8" cy="544.6" r="6.8" stroke="#222" stroke-width="1.5" fill="#fff" />
<line x1="812.4" y1="533" x2="812.4" y2="551.2" stroke="#333" stroke-width="1.8" />
<line x1="794.3" y1="551.2" x2="813.2" y2="551.2" stroke="#333" stroke-width="1.4" />
<rect x="850.5" y="494.5" width="35.0" height="5.0" rx="0" stroke="#4a4a4a" stroke-width="1.0" fill="#fff" />
<rect x="854.5" y="499.5" width="27.0" height="42.0" rx="0" stroke="#4a4a4a" stroke-width="1.0" fill="#fff" />
<line x1="854.6" y1="522.8" x2="881.2" y2="522.8" stroke="#4a4a4a" stroke-width="1.6" />
<rect x="915.5" y="494.5" width="34.0" height="5.0" rx="0" stroke="#4a4a4a" stroke-width="1.0" fill="#fff" />
<rect x="918.5" y="499.5" width="27.0" height="23.0" rx="0" stroke="#4a4a4a" stroke-width="1.0" fill="#fff" />
<line x1="918.2" y1="522.8" x2="945.7" y2="522.8" stroke="#4a4a4a" stroke-width="1.6" />
<rect x="917.5" y="523.5" width="29.0" height="11.0" rx="0" stroke="#4a4a4a" stroke-width="1.0" fill="#fff" />
<rect x="925.5" y="534.5" width="13.0" height="5.0" rx="0" stroke="#4a4a4a" stroke-width="1.0" fill="#fff" />
<line x1="929.5" y1="534.7" x2="929.5" y2="539.6" stroke="#4a4a4a" stroke-width="0.8" />
<line x1="934.5" y1="534.7" x2="934.5" y2="539.6" stroke="#4a4a4a" stroke-width="0.8" />
<line x1="929.5" y1="539.6" x2="929.5" y2="545.5" stroke="#7a7a7a" stroke-width="0.9" />
<line x1="934.5" y1="539.6" x2="934.5" y2="545.5" stroke="#7a7a7a" stroke-width="0.9" />
<rect x="914.5" y="545.5" width="36.0" height="3.0" rx="0" stroke="#4a4a4a" stroke-width="0.5" fill="#222" />
<line x1="914.4" y1="547.2" x2="950.4" y2="547.2" stroke="#fff" stroke-width="1.6" stroke-dasharray="0.8 1.0"/>
<line x1="794.5" y1="554.3" x2="794.5" y2="601" stroke="#7a7a7a" stroke-width="0.9" />
<line x1="813.5" y1="554.3" x2="813.5" y2="601" stroke="#7a7a7a" stroke-width="0.9" />
<line x1="724.4" y1="598.5" x2="837.6" y2="598.5" stroke="#7a7a7a" stroke-width="0.9" />
<path d="M794.10,598.00 L781.00,600.20 L781.00,595.80 Z" fill="#111" stroke="#111" stroke-width="0.4"/>
<path d="M813.40,598.00 L825.40,595.80 L825.40,600.20 Z" fill="#111" stroke="#111" stroke-width="0.4"/>
<circle cx="737.7" cy="584.3" r="8.2" stroke="#4a4a4a" stroke-width="0.9" fill="none" />
<line x1="733.1" y1="594.9" x2="742.3" y2="573.7" stroke="#7a7a7a" stroke-width="0.9" />
<text class="big" x="750.09" y="592.7" font-size="24" fill="#111" textLength="25.41" lengthAdjust="spacingAndGlyphs">32</text>
<line x1="854.5" y1="541.7" x2="854.5" y2="574" stroke="#7a7a7a" stroke-width="0.9" />
<line x1="881.5" y1="541.7" x2="881.5" y2="574" stroke="#7a7a7a" stroke-width="0.9" />
<line x1="830" y1="571.5" x2="905" y2="571.5" stroke="#7a7a7a" stroke-width="0.9" />
<path d="M854.40,571.70 L842.30,573.90 L842.30,569.50 Z" fill="#111" stroke="#111" stroke-width="0.4"/>
<path d="M881.40,571.70 L893.50,569.50 L893.50,573.90 Z" fill="#111" stroke="#111" stroke-width="0.4"/>
<circle cx="858.4" cy="557.8" r="8.0" stroke="#4a4a4a" stroke-width="0.9" fill="none" />
<line x1="853.8" y1="568.4" x2="863.0" y2="547.2" stroke="#7a7a7a" stroke-width="0.9" />
<text class="big" x="872.27" y="566.4" font-size="24" fill="#111" textLength="24.05" lengthAdjust="spacingAndGlyphs">45</text>
<line x1="914.5" y1="551.6" x2="914.5" y2="600.5" stroke="#7a7a7a" stroke-width="0.9" />
<line x1="949.5" y1="551.6" x2="949.5" y2="600.5" stroke="#7a7a7a" stroke-width="0.9" />
<line x1="914.4" y1="598.5" x2="1000.6" y2="598.5" stroke="#7a7a7a" stroke-width="0.9" />
<path d="M914.60,598.20 L927.60,596.00 L927.60,600.40 Z" fill="#111" stroke="#111" stroke-width="0.4"/>
<path d="M949.60,598.20 L937.00,600.40 L937.00,596.00 Z" fill="#111" stroke="#111" stroke-width="0.4"/>
<circle cx="962.7" cy="584.4" r="8.0" stroke="#4a4a4a" stroke-width="0.9" fill="none" />
<line x1="958.1" y1="595.0" x2="967.3" y2="573.8" stroke="#7a7a7a" stroke-width="0.9" />
<text class="big" x="976.04" y="592.9" font-size="24" fill="#111" textLength="21.37" lengthAdjust="spacingAndGlyphs">61</text>
<line x1="1007.5" y1="331.3" x2="1007.5" y2="482.7" stroke="#7a7a7a" stroke-width="0.9" />
<path d="M1007.60,482.50 L1005.40,470.50 L1009.80,470.50 Z" fill="#111" stroke="#111" stroke-width="0.4"/>
<line x1="1007.5" y1="497.6" x2="1007.5" y2="521.8" stroke="#7a7a7a" stroke-width="0.9" />
<path d="M1007.60,497.80 L1009.80,509.60 L1005.40,509.60 Z" fill="#111" stroke="#111" stroke-width="0.4"/>
<text class="big" transform="translate(976,470.13) rotate(-90)" font-size="23" fill="#111" textLength="139.49" lengthAdjust="spacingAndGlyphs">Min. 25,5mm</text>
<text class="big" transform="translate(1002.6,464.78) rotate(-90)" font-size="23" fill="#111" textLength="129.55" lengthAdjust="spacingAndGlyphs">Max. 47mm</text>
</svg></body></html>
